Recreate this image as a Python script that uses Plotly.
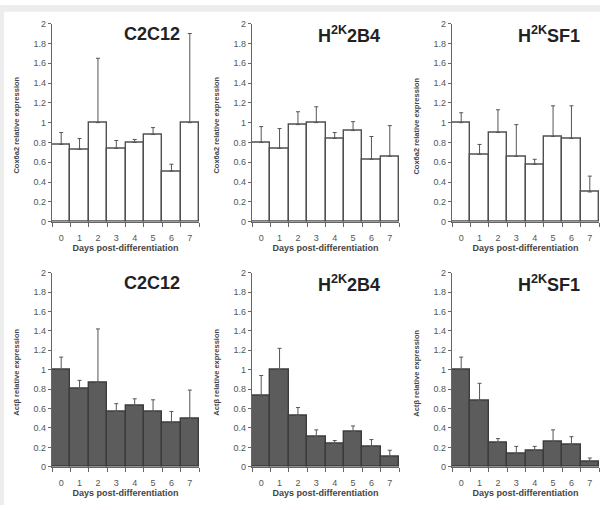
import plotly.graph_objects as go

days = ["0", "1", "2", "3", "4", "5", "6", "7"]
cell_lines = ["C2C12", "H<sup>2K</sup>2B4", "H<sup>2K</sup>SF1"]
top_label = "Cox6a2 relative expression"
bottom_label = "Actβ relative expression"
x_title = "Days post-differentiation"
y_ticks = [0, 0.2, 0.4, 0.6, 0.8, 1, 1.2, 1.4, 1.6, 1.8, 2]

# Top row (Cox6a2)
cox_c2c12 = [0.78, 0.73, 1.00, 0.74, 0.80, 0.88, 0.51, 1.00]
cox_c2c12_err = [0.12, 0.11, 0.65, 0.08, 0.03, 0.07, 0.07, 0.90]
cox_2b4 = [0.80, 0.74, 0.98, 1.00, 0.84, 0.92, 0.63, 0.66]
cox_2b4_err = [0.16, 0.20, 0.13, 0.16, 0.06, 0.09, 0.23, 0.31]
cox_sf1 = [1.00, 0.68, 0.90, 0.66, 0.58, 0.86, 0.84, 0.30]
cox_sf1_err = [0.10, 0.10, 0.23, 0.32, 0.05, 0.31, 0.33, 0.16]

# Bottom row (Actb)
act_c2c12 = [1.00, 0.80, 0.87, 0.57, 0.63, 0.57, 0.45, 0.50]
act_c2c12_err = [0.13, 0.09, 0.55, 0.08, 0.07, 0.12, 0.12, 0.29]
act_2b4 = [0.73, 1.00, 0.53, 0.31, 0.24, 0.36, 0.21, 0.10]
act_2b4_err = [0.21, 0.22, 0.08, 0.07, 0.03, 0.06, 0.07, 0.07]
act_sf1 = [1.00, 0.68, 0.25, 0.135, 0.17, 0.26, 0.23, 0.05]
act_sf1_err = [0.13, 0.18, 0.04, 0.075, 0.04, 0.12, 0.08, 0.04]

top_vals = [cox_c2c12, cox_2b4, cox_sf1]
top_errs = [cox_c2c12_err, cox_2b4_err, cox_sf1_err]
bot_vals = [act_c2c12, act_2b4, act_sf1]
bot_errs = [act_c2c12_err, act_2b4_err, act_sf1_err]

W, H = 600, 510
x_left = [52, 252, 452]
x_width = 147
row_px = [(19, 221), (273, 471)]  # (top of axis, bottom of axis) in pixels


def px_x(p):
    return p / W


def px_y(p):
    return 1 - p / H


fig = go.Figure()
layout = {}
annotations = []
shapes = [
    dict(type="rect", xref="paper", yref="paper", x0=0, x1=1, y0=px_y(7), y1=1,
         fillcolor="#ededed", line=dict(width=0), layer="below"),
    dict(type="rect", xref="paper", yref="paper", x0=0, x1=px_x(4), y0=0, y1=1,
         fillcolor="#ededed", line=dict(width=0), layer="below"),
]

idx = 0
for r, (vals_set, errs_set, fill, outline, ylab) in enumerate([
        (top_vals, top_errs, "white", "#505050", top_label),
        (bot_vals, bot_errs, "#5c5c5c", "#3c3c3c", bottom_label)]):
    ytop, ybot = row_px[r]
    for c in range(3):
        idx += 1
        xa = "x" if idx == 1 else f"x{idx}"
        ya = "y" if idx == 1 else f"y{idx}"
        fig.add_trace(go.Bar(
            x=days, y=vals_set[c], xaxis=xa, yaxis=ya,
            marker=dict(color=fill, line=dict(color=outline, width=1.4)),
            error_y=dict(type="data", array=errs_set[c], arrayminus=[0] * 8,
                         symmetric=False, color="#555555", thickness=1, width=2),
            showlegend=False, hoverinfo="skip",
        ))
        key = "" if idx == 1 else str(idx)
        layout["xaxis" + key] = dict(
            domain=[px_x(x_left[c]), px_x(x_left[c] + x_width)],
            anchor=ya, type="category", showline=True, linecolor="#666666",
            linewidth=1.2, ticks="outside", tickson="boundaries", ticklen=4,
            tickcolor="#666666", showgrid=False, ticklabelstandoff=7,
            tickfont=dict(family="Liberation Sans, Arial", size=9, color="#555555"),
            title=dict(text=x_title, standoff=0,
                       font=dict(family="Liberation Sans, Arial", size=9,
                                 color="#444444", weight="bold")),
            fixedrange=True,
        )
        layout["yaxis" + key] = dict(
            domain=[px_y(ybot), px_y(ytop)], anchor=xa, range=[0, 2],
            tickvals=y_ticks, showline=True, linecolor="#666666", linewidth=1.2,
            ticks="outside", ticklen=3, tickcolor="#666666", showgrid=False,
            zeroline=False, fixedrange=True,
            tickfont=dict(family="Liberation Sans, Arial", size=9, color="#555555"),
        )
        annotations.append(dict(
            text=cell_lines[c], xref="paper", yref="paper",
            x=px_x(x_left[c] + 130), y=px_y(ytop + 11), xanchor="right",
            yanchor="middle", showarrow=False,
            font=dict(family="Liberation Sans, Arial", size=18, color="#222222",
                      weight="bold"),
        ))
        annotations.append(dict(
            text=ylab, xref="paper", yref="paper", textangle=-90,
            x=px_x(x_left[c] - 35), y=px_y((ytop + ybot) / 2 + 3),
            xanchor="center", yanchor="middle", showarrow=False,
            font=dict(family="Liberation Sans, Arial", size=7.5, color="#444444",
                      weight="bold"),
        ))

fig.update_layout(
    width=W, height=H, margin=dict(l=0, r=0, t=0, b=0),
    paper_bgcolor="white", plot_bgcolor="white", bargap=0,
    annotations=annotations, shapes=shapes, **layout,
)

fig.write_html(
    "out.html",
    config={"displayModeBar": False},
    post_script="document.body.style.margin='0';document.body.style.overflow='hidden';",
)
